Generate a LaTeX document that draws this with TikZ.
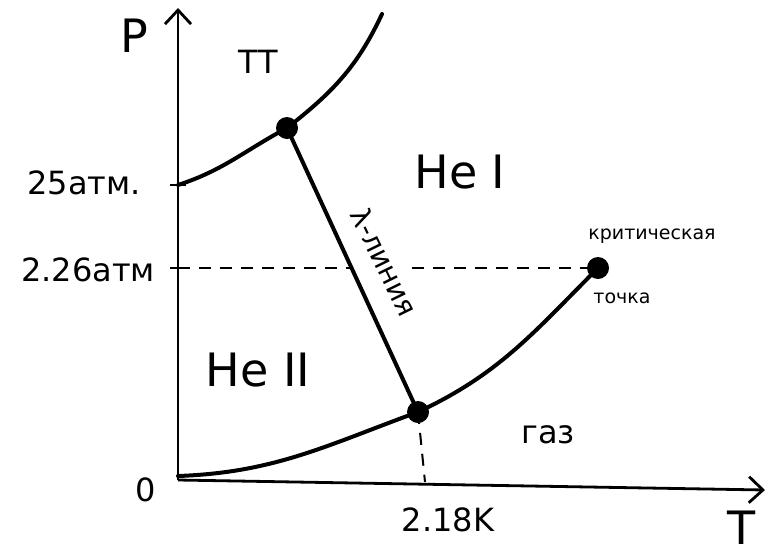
\documentclass[tikz,border=0pt]{standalone}
\usepackage{fontspec}
\setmainfont{DejaVu Sans}
\usetikzlibrary{arrows.meta}
\begin{document}
\begin{tikzpicture}[x=1pt,y=-1pt,
  curve/.style={line width=4pt,line cap=round},
  axis/.style={line width=2.8pt,-{Straight Barb[length=14pt,width=26pt,line width=2.8pt]}},
  guide/.style={line width=2pt,dash pattern=on 12pt off 9pt},
  dot/.style={circle,fill=black,inner sep=0pt,minimum size=22pt},
  big/.style={font=\fontsize{46}{48}\selectfont},
  mid/.style={font=\fontsize{32}{34}\selectfont},
  small/.style={font=\fontsize{19}{21}\selectfont}]
\useasboundingbox (0,0) rectangle (776,555);
% axes
\coordinate (O) at (178,480);
\coordinate (Ptop) at (178,8);
\coordinate (Tend) at (765,490);
\draw[axis] (O) -- (Ptop);
\draw[axis] (O) -- (Tend);
% key points
\node[dot] (tp) at (287,128) {};
\node[dot] (lam) at (418,412) {};
\node[dot] (cp) at (598,268) {};
\coordinate (s0) at (178,185);
\coordinate (stop) at (382,14);
\coordinate (v0) at (178,476);
\coordinate (h0) at (178,268);
\coordinate (hgap1) at (352,268);
\coordinate (hgap2) at (412,268);
\coordinate (lb) at (425,482);
% curves
\draw[curve] (s0) to[out=18,in=208] (tp.center) to[out=38,in=245] (stop);
\draw[curve] (v0) to[out=2,in=200] (lam.center) to[out=25,in=225] (cp.center);
\draw[curve] (tp.center) -- (lam.center);
% guides
\draw[guide] (h0) -- (hgap1);
\draw[guide] (hgap2) -- (cp.center);
\draw[guide] (lam.center) -- (lb);
\draw[line width=2pt] (170,185) -- (186,185);
\draw[line width=2pt] (170,268) -- (186,268);
% labels
\node[big] (P) at (134,36) {P};
\node[big] (T) at (742,528) {T};
\node[mid] (TT) at (258,62) {ТТ};
\node[mid] (p25) at (84,183) {25атм.};
\node[mid] (p226) at (88,270) {2.26атм};
\node[mid] (zero) at (146,490) {0};
\node[mid] (t218) at (448,520) {2.18K};
\node[big] (HeI) at (460,172) {He I};
\node[big] (HeII) at (258,370) {He II};
\node[mid] (gas) at (548,435) {газ};
\node[small] (crit1) at (652,236) {критическая};
\node[small] (crit2) at (622,298) {точка};
\node[font=\fontsize{28}{30}\selectfont,rotate=-64,inner sep=1pt] (lline) at (385,262) {λ-линия};
\end{tikzpicture}
\end{document}
